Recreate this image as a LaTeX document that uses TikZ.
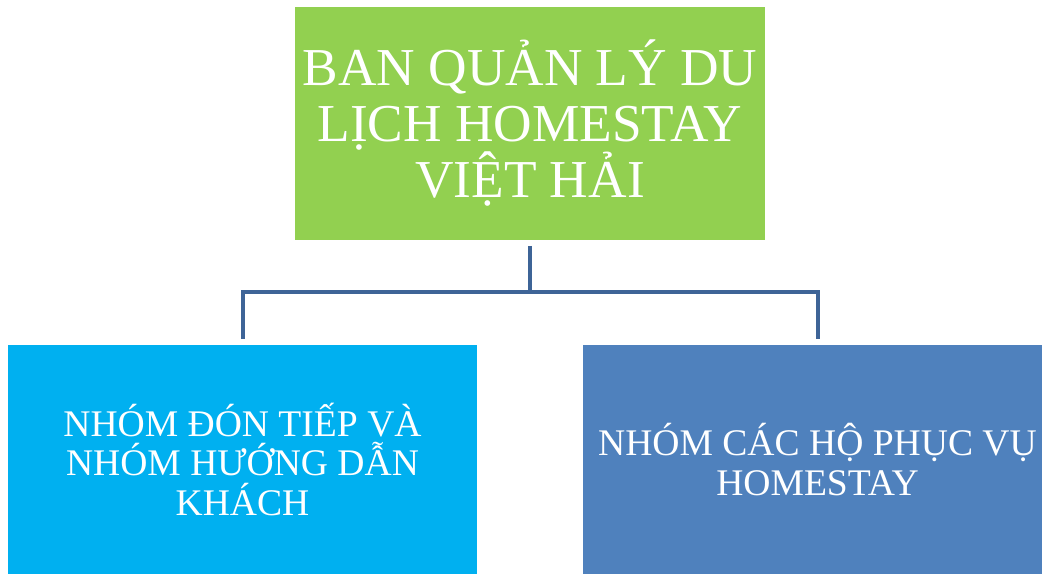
\documentclass[tikz,border=0pt]{standalone}
\usepackage{fontspec}
\setmainfont{Liberation Serif}
\usepackage{xcolor}
\usepackage{tikz}
\definecolor{xanhla}{HTML}{92D050}
\definecolor{xanhtroi}{HTML}{00B0F0}
\definecolor{xanhduong}{HTML}{4F81BD}
\definecolor{duongnoi}{HTML}{3E6497}
\begin{document}
\begin{tikzpicture}[x=0.75pt,y=-0.75pt,
	hop/.style={inner sep=0pt,align=center,text=white},
	noi/.style={draw=duongnoi,line width=3pt}]
	% Khung hình
	\clip (0,0) rectangle (1042,574);
	% Các ô
	\node[hop,fill=xanhla,minimum width=352.5pt,minimum height=174pt,
		font=\fontsize{40}{42}\selectfont] (bql) at (530,123.5)
		{BAN QUẢN LÝ DU\\LỊCH HOMESTAY\\VIỆT HẢI};
	\node[hop,fill=xanhtroi,minimum width=351.75pt,minimum height=171.75pt,
		font=\fontsize{28.2}{29.5}\selectfont] (dontiep) at (242.5,459.5)
		{NHÓM ĐÓN TIẾP VÀ\\NHÓM HƯỚNG DẪN\\KHÁCH};
	\node[hop,fill=xanhduong,minimum width=351.75pt,minimum height=171.75pt,
		font=\fontsize{28.2}{29.5}\selectfont] (phucvu) at (817.5,459.5)
		{NHÓM CÁC HỘ PHỤC VỤ\\HOMESTAY};
	% Đường nối
	\coordinate (nga) at (530,292);
	\draw[noi] ([yshift=-4.5pt]bql.south) -- (nga);
	\draw[noi] ([yshift=4.5pt]dontiep.north) |- (nga) -| ([yshift=4.5pt]phucvu.north);
\end{tikzpicture}
\end{document}
